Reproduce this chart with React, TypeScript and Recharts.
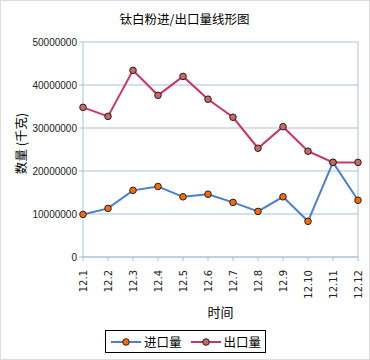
import { CartesianGrid, Line, LineChart, ReferenceLine, XAxis, YAxis } from "recharts";

const months = ["12.1", "12.2", "12.3", "12.4", "12.5", "12.6", "12.7", "12.8", "12.9", "12.10", "12.11", "12.12"];
const importQty = [9900000, 11300000, 15500000, 16400000, 14000000, 14600000, 12700000, 10600000, 14000000, 8300000, 22000000, 13200000];
const exportQty = [34800000, 32700000, 43400000, 37600000, 42000000, 36700000, 32500000, 25300000, 30300000, 24600000, 22000000, 22000000];
const yTicks = [0, 10000000, 20000000, 30000000, 40000000, 50000000];

const seriesNames = ["进口量", "出口量"];
const lineColors = ["#4a7fd4", "#cc3366"];
const dotColors = ["#ff6a00", "#cc6666"];

const cjk = "'Noto Sans CJK SC', 'Noto Sans', sans-serif";
const axisColor = "#a9c1dc";

const data = months.map((m, i) => ({ month: m, imp: importQty[i], exp: exportQty[i] }));

function XTick({ x, y, payload }: any) {
  return (
    <g transform={`translate(${x},${y + 7})`}>
      <text transform="rotate(-90)" textAnchor="end" dy={4} fontSize={10} fill="#222" fontFamily="'DejaVu Sans', sans-serif">
        {payload.value}
      </text>
    </g>
  );
}

function YLabel({ viewBox }: any) {
  const cy = viewBox.y + viewBox.height / 2 - 6;
  return (
    <text x={19} y={cy} transform={`rotate(-90, 19, ${cy})`} textAnchor="middle" dominantBaseline="central" fontSize={12.5} fontFamily={cjk} fill="#000">
      数量 (千克)
    </text>
  );
}

function LegendBox() {
  return (
    <div
      style={{
        position: "absolute",
        left: 104,
        top: 329,
        width: 161,
        height: 23,
        border: "1px solid #000",
        boxSizing: "border-box",
        display: "flex",
        alignItems: "center",
        fontFamily: cjk,
        fontSize: 12.5,
        lineHeight: "20px",
        whiteSpace: "nowrap",
        background: "#fff",
      }}
    >
      {seriesNames.map((name, i) => (
        <div key={name} style={{ display: "flex", alignItems: "center", flexShrink: 0, marginLeft: i === 0 ? 5 : 9 }}>
          <svg width={30} height={10} style={{ flexShrink: 0 }}>
            <line x1={0} y1={5} x2={30} y2={5} stroke={lineColors[i]} strokeWidth={2} />
            <circle cx={15} cy={5} r={3.3} fill={dotColors[i]} stroke="#222" strokeWidth={1} />
          </svg>
          <span style={{ marginLeft: 3 }}>{name}</span>
        </div>
      ))}
    </div>
  );
}

export default function App() {
  return (
    <div
      style={{
        position: "absolute",
        left: 0,
        top: 0,
        width: 370,
        height: 360,
        border: "1px solid #dcdcdc",
        boxSizing: "border-box",
        background: "#fff",
      }}
    >
      <div
        style={{
          position: "absolute",
          top: 8,
          left: 0,
          width: 367,
          textAlign: "center",
          fontFamily: cjk,
          fontSize: 12.5,
          color: "#000",
        }}
      >
        钛白粉进/出口量线形图
      </div>
      <LineChart width={368} height={358} data={data} margin={{ top: 41, right: 11, bottom: 42, left: -1 }}>
        <CartesianGrid horizontal vertical={false} stroke={axisColor} />
        <ReferenceLine x="12.12" stroke={axisColor} />
        <XAxis
          dataKey="month"
          stroke={axisColor}
          tickSize={4}
          tickLine={{ stroke: axisColor }}
          tick={<XTick />}
          height={60}
          interval={0}
          label={{ value: "时间", position: "insideBottom", offset: 0, fontSize: 13, fill: "#000", fontFamily: cjk }}
        />
        <YAxis
          width={83}
          domain={[0, 50000000]}
          ticks={yTicks}
          interval={0}
          stroke={axisColor}
          tickSize={4}
          tickLine={{ stroke: axisColor }}
          tick={{ fontSize: 10, fill: "#222", fontFamily: "'Liberation Sans', Arial, sans-serif" }}
          label={<YLabel />}
        />
        <Line
          dataKey="imp"
          name={seriesNames[0]}
          stroke={lineColors[0]}
          strokeWidth={2}
          dot={{ r: 3.3, fill: dotColors[0], stroke: "#222", strokeWidth: 1 }}
          isAnimationActive={false}
        />
        <Line
          dataKey="exp"
          name={seriesNames[1]}
          stroke={lineColors[1]}
          strokeWidth={2}
          dot={{ r: 3.3, fill: dotColors[1], stroke: "#222", strokeWidth: 1 }}
          isAnimationActive={false}
        />
      </LineChart>
      <LegendBox />
    </div>
  );
}
